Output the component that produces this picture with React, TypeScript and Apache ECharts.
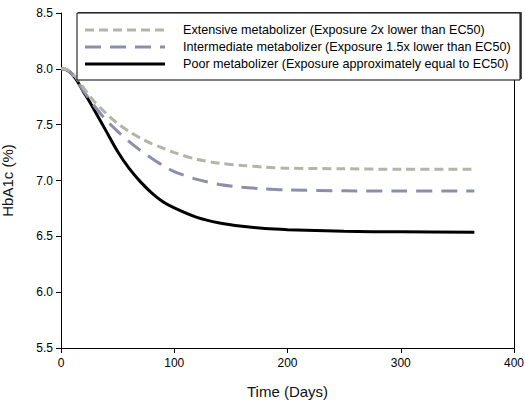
import React, { useEffect, useRef } from "react";
import * as echarts from "echarts";

const days = [0, 5, 10, 15, 20, 25, 30, 40, 50, 60, 70, 80, 90, 100, 120, 140, 160, 180, 200, 250, 300, 365];
const extensive = [8.0, 7.995, 7.96, 7.9, 7.83, 7.76, 7.7, 7.6, 7.51, 7.44, 7.38, 7.33, 7.29, 7.25, 7.19, 7.155, 7.135, 7.12, 7.11, 7.105, 7.1, 7.1];
const intermediate = [8.0, 7.993, 7.95, 7.88, 7.8, 7.73, 7.66, 7.54, 7.44, 7.35, 7.27, 7.2, 7.135, 7.08, 7.01, 6.965, 6.94, 6.925, 6.915, 6.908, 6.905, 6.905];
const poor = [8.0, 7.99, 7.95, 7.88, 7.79, 7.71, 7.62, 7.44, 7.26, 7.11, 6.99, 6.89, 6.81, 6.755, 6.67, 6.62, 6.59, 6.57, 6.56, 6.545, 6.54, 6.537];

const seriesNames = [
  "Extensive metabolizer (Exposure 2x lower than EC50)",
  "Intermediate metabolizer (Exposure 1.5x lower than EC50)",
  "Poor metabolizer (Exposure approximately equal to EC50)",
];
const seriesData = [extensive, intermediate, poor];
const colors = ["#b3b5a8", "#8d8eab", "#000000"];
const dashes: (number[] | null)[] = [[9, 5], [16, 9], null];

const FONT = "'Liberation Sans', Arial, sans-serif";

export default function App() {
  const ref = useRef<HTMLDivElement>(null);
  useEffect(() => {
    if (!ref.current) return;
    const chart = echarts.init(ref.current, undefined, { renderer: "svg" });
    const legendX = 77;
    const legendY = 13;
    const rowY = [30, 47, 64];
    const graphicEls: any[] = [
      {
        type: "rect",
        shape: { x: legendX + 1, y: legendY - 1, width: 444, height: 67 },
        style: { fill: "#555", stroke: null },
        z: 99,
      },
      {
        type: "rect",
        shape: { x: legendX, y: legendY, width: 443, height: 67 },
        style: { fill: "#fff", stroke: "#000", lineWidth: 1 },
        z: 100,
      },
    ];
    seriesNames.forEach((name, i) => {
      graphicEls.push({
        type: "line",
        shape: { x1: 85, y1: rowY[i], x2: 165, y2: rowY[i] },
        style: {
          stroke: colors[i],
          lineWidth: 3,
          lineDash: dashes[i] || undefined,
        },
        z: 101,
      });
      graphicEls.push({
        type: "text",
        x: 183,
        y: rowY[i],
        style: {
          text: name,
          fill: "#000",
          font: `12.6px ${FONT}`,
          textVerticalAlign: "middle",
          verticalAlign: "middle",
        },
        z: 101,
      });
    });

    chart.setOption({
      animation: false,
      grid: { left: 61, right: 11, top: 13, bottom: 57, containLabel: false, outerBoundsMode: "none" },
      xAxis: {
        type: "value",
        min: 0,
        max: 400,
        interval: 100,
        name: "Time (Days)",
        nameLocation: "middle",
        nameGap: 36,
        nameTextStyle: { fontSize: 15, color: "#111", fontFamily: FONT, fontWeight: "normal" },
        axisLine: { show: true, lineStyle: { color: "#000", width: 1 } },
        axisTick: { show: true, length: 5, lineStyle: { color: "#000" } },
        axisLabel: { fontSize: 12, color: "#000", fontFamily: FONT, margin: 9 },
        splitLine: { show: false },
      },
      yAxis: [
        {
          type: "value",
          min: 5.5,
          max: 8.5,
          interval: 0.5,
          name: "HbA1c (%)",
          nameLocation: "middle",
          nameGap: 46,
          nameTextStyle: { fontSize: 15, color: "#111", fontFamily: FONT, fontWeight: "normal" },
          axisLine: { show: true, lineStyle: { color: "#000", width: 1 } },
          axisTick: { show: true, length: 5, lineStyle: { color: "#000" } },
          axisLabel: {
            fontSize: 12,
            color: "#000",
            fontFamily: FONT,
            margin: 8,
            formatter: (v: number) => v.toFixed(1),
          },
          splitLine: { show: false },
        },
        {
          type: "value",
          position: "right",
          min: 5.5,
          max: 8.5,
          interval: 0.5,
          axisLine: { show: true, lineStyle: { color: "#000", width: 1 } },
          axisTick: { show: false },
          axisLabel: { show: false },
          splitLine: { show: false },
        },
      ],
      series: seriesNames.map((name, i) => ({
        name,
        type: "line",
        yAxisIndex: 0,
        data: days.map((d, j) => [d, seriesData[i][j]]),
        smooth: 0.3,
        showSymbol: false,
        symbol: "none",
        lineStyle: {
          color: colors[i],
          width: 3,
          type: dashes[i] || "solid",
        },
        z: 3 - i,
      })),
      graphic: graphicEls,
    });
    return () => chart.dispose();
  }, []);
  return (
    <div
      ref={ref}
      style={{ position: "fixed", left: 0, top: 0, width: 525, height: 405, background: "#fff" }}
    />
  );
}
